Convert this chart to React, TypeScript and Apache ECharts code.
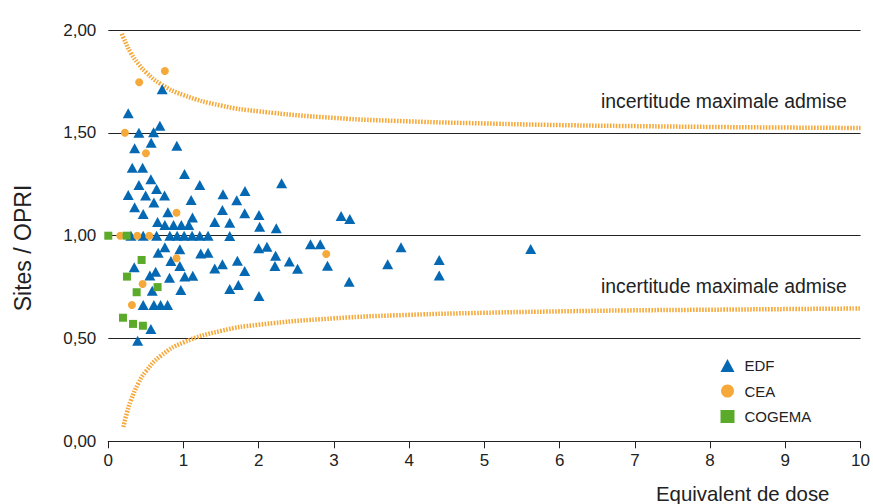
import React, { useEffect, useRef } from "react";
import * as echarts from "echarts";

const yTickLabels = ["0,00", "0,50", "1,00", "1,50", "2,00"];
const xTickLabels = ["0", "1", "2", "3", "4", "5", "6", "7", "8", "9", "10"];

const edfPoints: [number, number][] = [
  [0.265, 1.595], [0.407, 1.501], [0.602, 1.503], [0.686, 1.535], [0.35, 1.425],
  [0.57, 1.452], [0.911, 1.438], [0.318, 1.331], [0.456, 1.331], [1.013, 1.3],
  [0.566, 1.274], [0.407, 1.247], [0.642, 1.227], [1.216, 1.247], [0.265, 1.198],
  [0.496, 1.195], [0.748, 1.195], [1.101, 1.174], [0.35, 1.138], [0.606, 1.162],
  [0.464, 1.106], [0.792, 1.114], [1.119, 1.089], [0.655, 1.067], [0.752, 1.052],
  [0.867, 1.052], [0.971, 1.052], [1.07, 1.052], [1.415, 1.067], [0.716, 1.712],
  [1.525, 1.201], [1.817, 1.217], [1.707, 1.172], [1.517, 1.125], [1.813, 1.109],
  [2.003, 1.101], [1.614, 1.063], [2.012, 1.044], [2.233, 1.036], [1.614, 0.999],
  [2.304, 1.255], [1.999, 0.939], [2.109, 0.946], [2.224, 0.903], [2.688, 0.958],
  [2.817, 0.958], [3.095, 1.096], [3.21, 1.081], [2.914, 0.854], [3.202, 0.776],
  [1.716, 0.878], [1.517, 0.861], [1.415, 0.841], [1.813, 0.828], [2.215, 0.853],
  [2.406, 0.874], [2.516, 0.839], [1.614, 0.741], [1.729, 0.76], [2.003, 0.707],
  [3.891, 0.944], [3.714, 0.861], [4.399, 0.882], [4.399, 0.807], [5.615, 0.935],
  [0.301, 1.0], [0.464, 1.0], [0.642, 1.0], [0.818, 1.0], [0.915, 1.0],
  [1.008, 1.0], [1.114, 1.0], [1.216, 1.0], [1.326, 1.0], [0.663, 0.917],
  [0.752, 0.944], [0.951, 0.934], [1.229, 0.914], [1.326, 0.917], [0.832, 0.877],
  [0.951, 0.853], [0.345, 0.846], [0.553, 0.807], [0.629, 0.825], [0.814, 0.796],
  [1.017, 0.801], [1.123, 0.805], [0.584, 0.732], [0.964, 0.736], [0.464, 0.663],
  [0.606, 0.663], [0.695, 0.663], [0.788, 0.663], [0.566, 0.546], [0.39, 0.489],
];

const ceaPoints: [number, number][] = [
  [0.411, 1.746], [0.752, 1.801], [0.221, 1.501], [0.5, 1.401], [0.907, 1.112],
  [0.159, 1.0], [0.385, 1.0], [0.544, 1.0], [0.907, 0.89], [0.456, 0.765],
  [0.314, 0.663], [2.897, 0.911],
];

const cogemaPoints: [number, number][] = [
  [0.0, 1.0], [0.244, 1.0], [0.443, 0.882], [0.248, 0.801], [0.655, 0.75],
  [0.377, 0.725], [0.195, 0.601], [0.328, 0.571], [0.46, 0.562],
];

const upperLimit: [number, number][] = [
  [0.18, 1.982], [0.2, 1.964], [0.3, 1.889], [0.4, 1.836], [0.5, 1.795],
  [0.7, 1.737], [1.0, 1.684], [1.5, 1.633], [2, 1.605], [3, 1.573],
  [4, 1.556], [5, 1.546], [6, 1.538], [7, 1.533], [8, 1.529], [9, 1.526], [10, 1.524],
];

const lowerLimit: [number, number][] = [
  [0.2, 0.07], [0.25, 0.142], [0.3, 0.199], [0.4, 0.282], [0.5, 0.34],
  [0.7, 0.416], [1.0, 0.481], [1.5, 0.537], [2, 0.567], [3, 0.598],
  [4, 0.615], [5, 0.625], [6, 0.632], [7, 0.637], [8, 0.64], [9, 0.643], [10, 0.646],
];

const limitLabel = "incertitude maximale admise";

const FONT = "'Liberation Sans', Arial, sans-serif";
const BLUE = "#0568B3";
const ORANGE = "#F6A93B";
const GREEN = "#5BAA2A";
const TEXT = "#222222";

export default function App() {
  const ref = useRef<HTMLDivElement>(null);

  useEffect(() => {
    if (!ref.current) return;
    const chart = echarts.init(ref.current, null, { renderer: "svg" });
    const limitStyle = { color: ORANGE, width: 4.5, type: [1.6, 1.4] as any };
    chart.setOption({
      animation: false,
      backgroundColor: "#ffffff",
      textStyle: { fontFamily: FONT },
      grid: { left: 108.3, right: 11, top: 30.1, bottom: 62.7, containLabel: false },
      xAxis: {
        type: "value",
        min: 0,
        max: 10,
        interval: 1,
        axisLine: { show: true, lineStyle: { color: TEXT, width: 1.2 } },
        axisTick: { show: true, inside: false, length: 7, lineStyle: { color: TEXT } },
        splitLine: { show: false },
        axisLabel: {
          margin: 11,
          color: TEXT,
          fontSize: 17,
          fontFamily: FONT,
          formatter: (v: number) => xTickLabels[Math.round(v)] ?? "",
        },
      },
      yAxis: {
        type: "value",
        min: 0,
        max: 2,
        interval: 0.5,
        axisLine: { show: false },
        axisTick: { show: false },
        splitLine: { show: true, lineStyle: { color: TEXT, width: 1 } },
        axisLabel: {
          margin: 12,
          color: TEXT,
          fontSize: 17,
          fontFamily: FONT,
          formatter: (v: number) => yTickLabels[Math.round(v * 2)] ?? "",
        },
      },
      legend: {
        orient: "vertical",
        left: 720.5,
        top: 358,
        padding: 0,
        itemWidth: 14,
        itemHeight: 13,
        itemGap: 10.5,
        data: ["EDF", "CEA", "COGEMA"],
        textStyle: { color: TEXT, fontSize: 15, fontFamily: FONT, padding: [0, 0, 0, 5] },
      },
      graphic: [
        {
          type: "text",
          x: 23,
          y: 248,
          rotation: Math.PI / 2,
          style: {
            text: "Sites / OPRI",
            fill: TEXT,
            font: `23px ${FONT}`,
            textAlign: "center",
            textVerticalAlign: "middle",
          },
        },
        {
          type: "text",
          left: 601,
          top: 91,
          style: { text: limitLabel, fill: TEXT, font: `19.4px ${FONT}` },
        },
        {
          type: "text",
          left: 601,
          top: 276,
          style: { text: limitLabel, fill: TEXT, font: `19.4px ${FONT}` },
        },
        {
          type: "text",
          left: 656,
          top: 484,
          style: { text: "Equivalent de dose", fill: TEXT, font: `20.4px ${FONT}` },
        },
      ],
      series: [
        {
          name: "upper",
          type: "line",
          data: upperLimit,
          smooth: true,
          showSymbol: false,
          lineStyle: limitStyle,
          z: 1,
          silent: true,
        },
        {
          name: "lower",
          type: "line",
          data: lowerLimit,
          smooth: true,
          showSymbol: false,
          lineStyle: limitStyle,
          z: 1,
          silent: true,
        },
        {
          name: "EDF",
          type: "scatter",
          symbol: "triangle",
          symbolSize: [11, 10],
          itemStyle: { color: BLUE, opacity: 1 },
          data: edfPoints,
          z: 3,
        },
        {
          name: "CEA",
          type: "scatter",
          symbol: "circle",
          symbolSize: 8,
          itemStyle: { color: ORANGE, opacity: 1 },
          data: ceaPoints,
          z: 4,
        },
        {
          name: "COGEMA",
          type: "scatter",
          symbol: "rect",
          symbolSize: 8,
          itemStyle: { color: GREEN, opacity: 1 },
          data: cogemaPoints,
          z: 4,
        },
      ],
    });
    return () => chart.dispose();
  }, []);

  return (
    <div
      ref={ref}
      style={{ position: "absolute", left: 0, top: 0, width: 873, height: 504 }}
    />
  );
}
